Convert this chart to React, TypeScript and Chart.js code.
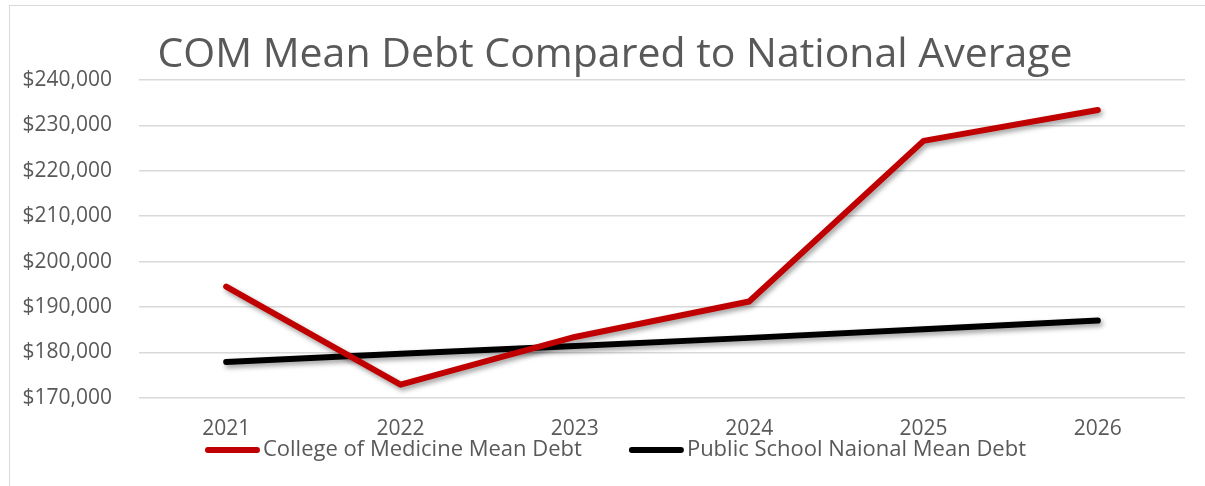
import React, { useEffect, useRef } from "react";
import { Chart, registerables } from "chart.js";

Chart.register(...registerables);

const years = ["2021", "2022", "2023", "2024", "2025", "2026"];
const comDebt = [194500, 172900, 183400, 191200, 226600, 233400];
const nationalDebt = [177900, 179700, 181400, 183200, 185100, 187000];
const seriesNames = ["College of Medicine Mean Debt", "Public School Naional Mean Debt"];
const seriesColors = ["#C00000", "#000000"];
const titleText = "COM Mean Debt Compared to National Average";
const yMin = 170000;
const yMax = 240000;
const yStep = 10000;

const FONT = "'Open Sans', 'Noto Sans', sans-serif";
const TEXT = "#595959";

const shadowPlugin = {
  id: "lineShadow",
  beforeDatasetDraw(chart: any) {
    const ctx = chart.ctx;
    ctx.save();
    ctx.shadowColor = "rgba(0,0,0,0.38)";
    ctx.shadowBlur = 5;
    ctx.shadowOffsetX = 2;
    ctx.shadowOffsetY = 3;
  },
  afterDatasetDraw(chart: any) {
    chart.ctx.restore();
  },
};

const titlePlugin = {
  id: "customTitle",
  afterDraw(chart: any) {
    const ctx = chart.ctx;
    ctx.save();
    ctx.font = `41px ${FONT}`;
    ctx.fillStyle = TEXT;
    ctx.textAlign = "center";
    ctx.textBaseline = "alphabetic";
    ctx.fillText(titleText, 615, 67);
    ctx.restore();
  },
};

const legendPlugin = {
  id: "customLegend",
  afterDraw(chart: any) {
    const ctx = chart.ctx;
    const lineLen = 49;
    const textGap = 6;
    const itemGap = 50;
    const y = 450;
    ctx.save();
    ctx.font = `22px ${FONT}`;
    const items = chart.data.datasets.map((ds: any) => ({
      label: ds.label,
      color: ds.borderColor,
      width: ds.borderWidth,
      tw: ctx.measureText(ds.label).width,
    }));
    let total = 0;
    items.forEach((it: any, i: number) => {
      total += lineLen + textGap + it.tw + (i > 0 ? itemGap : 0);
    });
    let x = 617 - total / 2;
    items.forEach((it: any) => {
      ctx.beginPath();
      ctx.lineCap = "round";
      ctx.lineWidth = it.width;
      ctx.strokeStyle = it.color;
      ctx.moveTo(x, y);
      ctx.lineTo(x + lineLen, y);
      ctx.stroke();
      ctx.fillStyle = TEXT;
      ctx.textAlign = "left";
      ctx.textBaseline = "middle";
      ctx.fillText(it.label, x + lineLen + textGap, y);
      x += lineLen + textGap + it.tw + itemGap;
    });
    ctx.restore();
  },
};

export default function App() {
  const ref = useRef<HTMLCanvasElement | null>(null);

  useEffect(() => {
    document.body.style.margin = "0";
    const canvas = ref.current;
    if (!canvas) return;
    const chart = new Chart(canvas, {
      type: "line",
      data: {
        labels: years,
        datasets: [
          {
            label: seriesNames[0],
            data: comDebt,
            borderColor: seriesColors[0],
            backgroundColor: seriesColors[0],
            borderWidth: 6,
            borderCapStyle: "round",
            borderJoinStyle: "round",
            pointRadius: 0,
            tension: 0,
          },
          {
            label: seriesNames[1],
            data: nationalDebt,
            borderColor: seriesColors[1],
            backgroundColor: seriesColors[1],
            borderWidth: 6,
            borderCapStyle: "round",
            borderJoinStyle: "round",
            pointRadius: 0,
            tension: 0,
          },
        ],
      },
      options: {
        animation: false,
        responsive: false,
        maintainAspectRatio: false,
        layout: { padding: { left: 17, right: 20, top: 80, bottom: 25 } },
        plugins: {
          title: { display: false },
          legend: { display: false },
          tooltip: { enabled: false },
        },
        scales: {
          x: {
            offset: true,
            grid: { display: false, drawTicks: false },
            border: { display: false },
            ticks: { color: TEXT, font: { family: FONT, size: 21 }, padding: 19 },
          },
          y: {
            min: yMin,
            max: yMax,
            afterFit(scale: any) {
              scale.width = 122;
            },
            grid: { color: "#D9D9D9", lineWidth: 1.6, drawTicks: false },
            border: { display: false },
            ticks: {
              stepSize: yStep,
              color: TEXT,
              font: { family: FONT, size: 21 },
              padding: 27,
              callback: (v: any) => "$" + Number(v).toLocaleString("en-US"),
            },
          },
        },
      },
      plugins: [shadowPlugin, titlePlugin, legendPlugin],
    });
    return () => chart.destroy();
  }, []);

  return (
    <div style={{ position: "relative", width: 1205, height: 486, overflow: "hidden", background: "#fff" }}>
      <canvas ref={ref} width={1205} height={486} style={{ display: "block" }} />
      <div
        style={{
          position: "absolute",
          left: 9,
          top: 5,
          width: 1400,
          height: 800,
          border: "1.5px solid #D9D9D9",
          pointerEvents: "none",
        }}
      />
    </div>
  );
}
